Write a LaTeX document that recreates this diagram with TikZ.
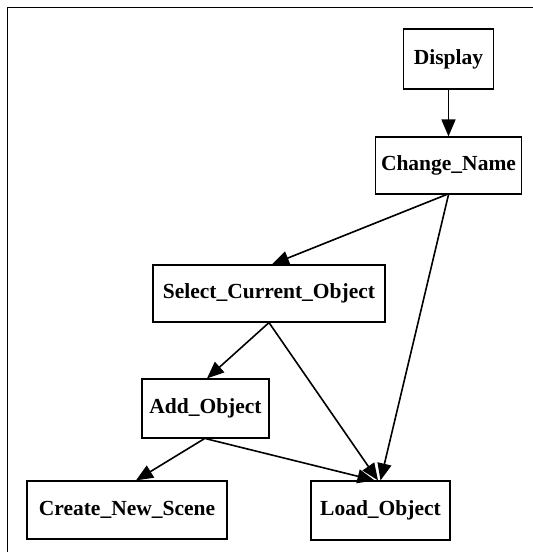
\documentclass[tikz,border=0pt]{standalone}
\usepackage{fontspec}
\setmainfont{Liberation Serif}
\usetikzlibrary{arrows.meta}
\begin{document}
\begin{tikzpicture}[x=1pt,y=-1pt,
  box/.style={draw,line width=1.2pt,inner sep=0pt,font=\bfseries\fontsize{21.5}{25}\selectfont},
  edge/.style={line width=1.6pt,-{Triangle[length=17pt,width=14pt]}}]
\useasboundingbox (0,0) rectangle (533,552);
\draw[line width=1.4pt] (533,7.5) -- (7.5,7.5) -- (7.5,552);
\node[box,minimum width=90pt,minimum height=60pt] (display) at (448.5,59) {Display};
\node[box,minimum width=146pt,minimum height=57pt] (change) at (448.5,165.5) {Change\_Name};
\node[box,minimum width=232pt,minimum height=57pt] (select) at (269,293.5) {Select\_Current\_Object};
\node[box,minimum width=127pt,minimum height=59pt] (add) at (205.5,408.5) {Add\_Object};
\node[box,minimum width=200pt,minimum height=58pt] (create) at (127,510) {Create\_New\_Scene};
\node[box,minimum width=139pt,minimum height=59pt] (load) at (380.5,510.5) {Load\_Object};
\draw[edge] (display.south) -- (change.north);
\draw[edge] ([xshift=-2pt]change.south) -- ([xshift=3pt]select.north);
\draw[edge] (change.south) -- (load.north);
\draw[edge] (select.south) -- ([xshift=1.5pt]add.north);
\draw[edge] (select.south) -- ([xshift=-2.5pt]load.north);
\draw[edge] ([xshift=-1pt]add.south) -- ([xshift=9pt]create.north);
\draw[edge] (add.south) -- ([xshift=-6pt]load.north);
\end{tikzpicture}
\end{document}
